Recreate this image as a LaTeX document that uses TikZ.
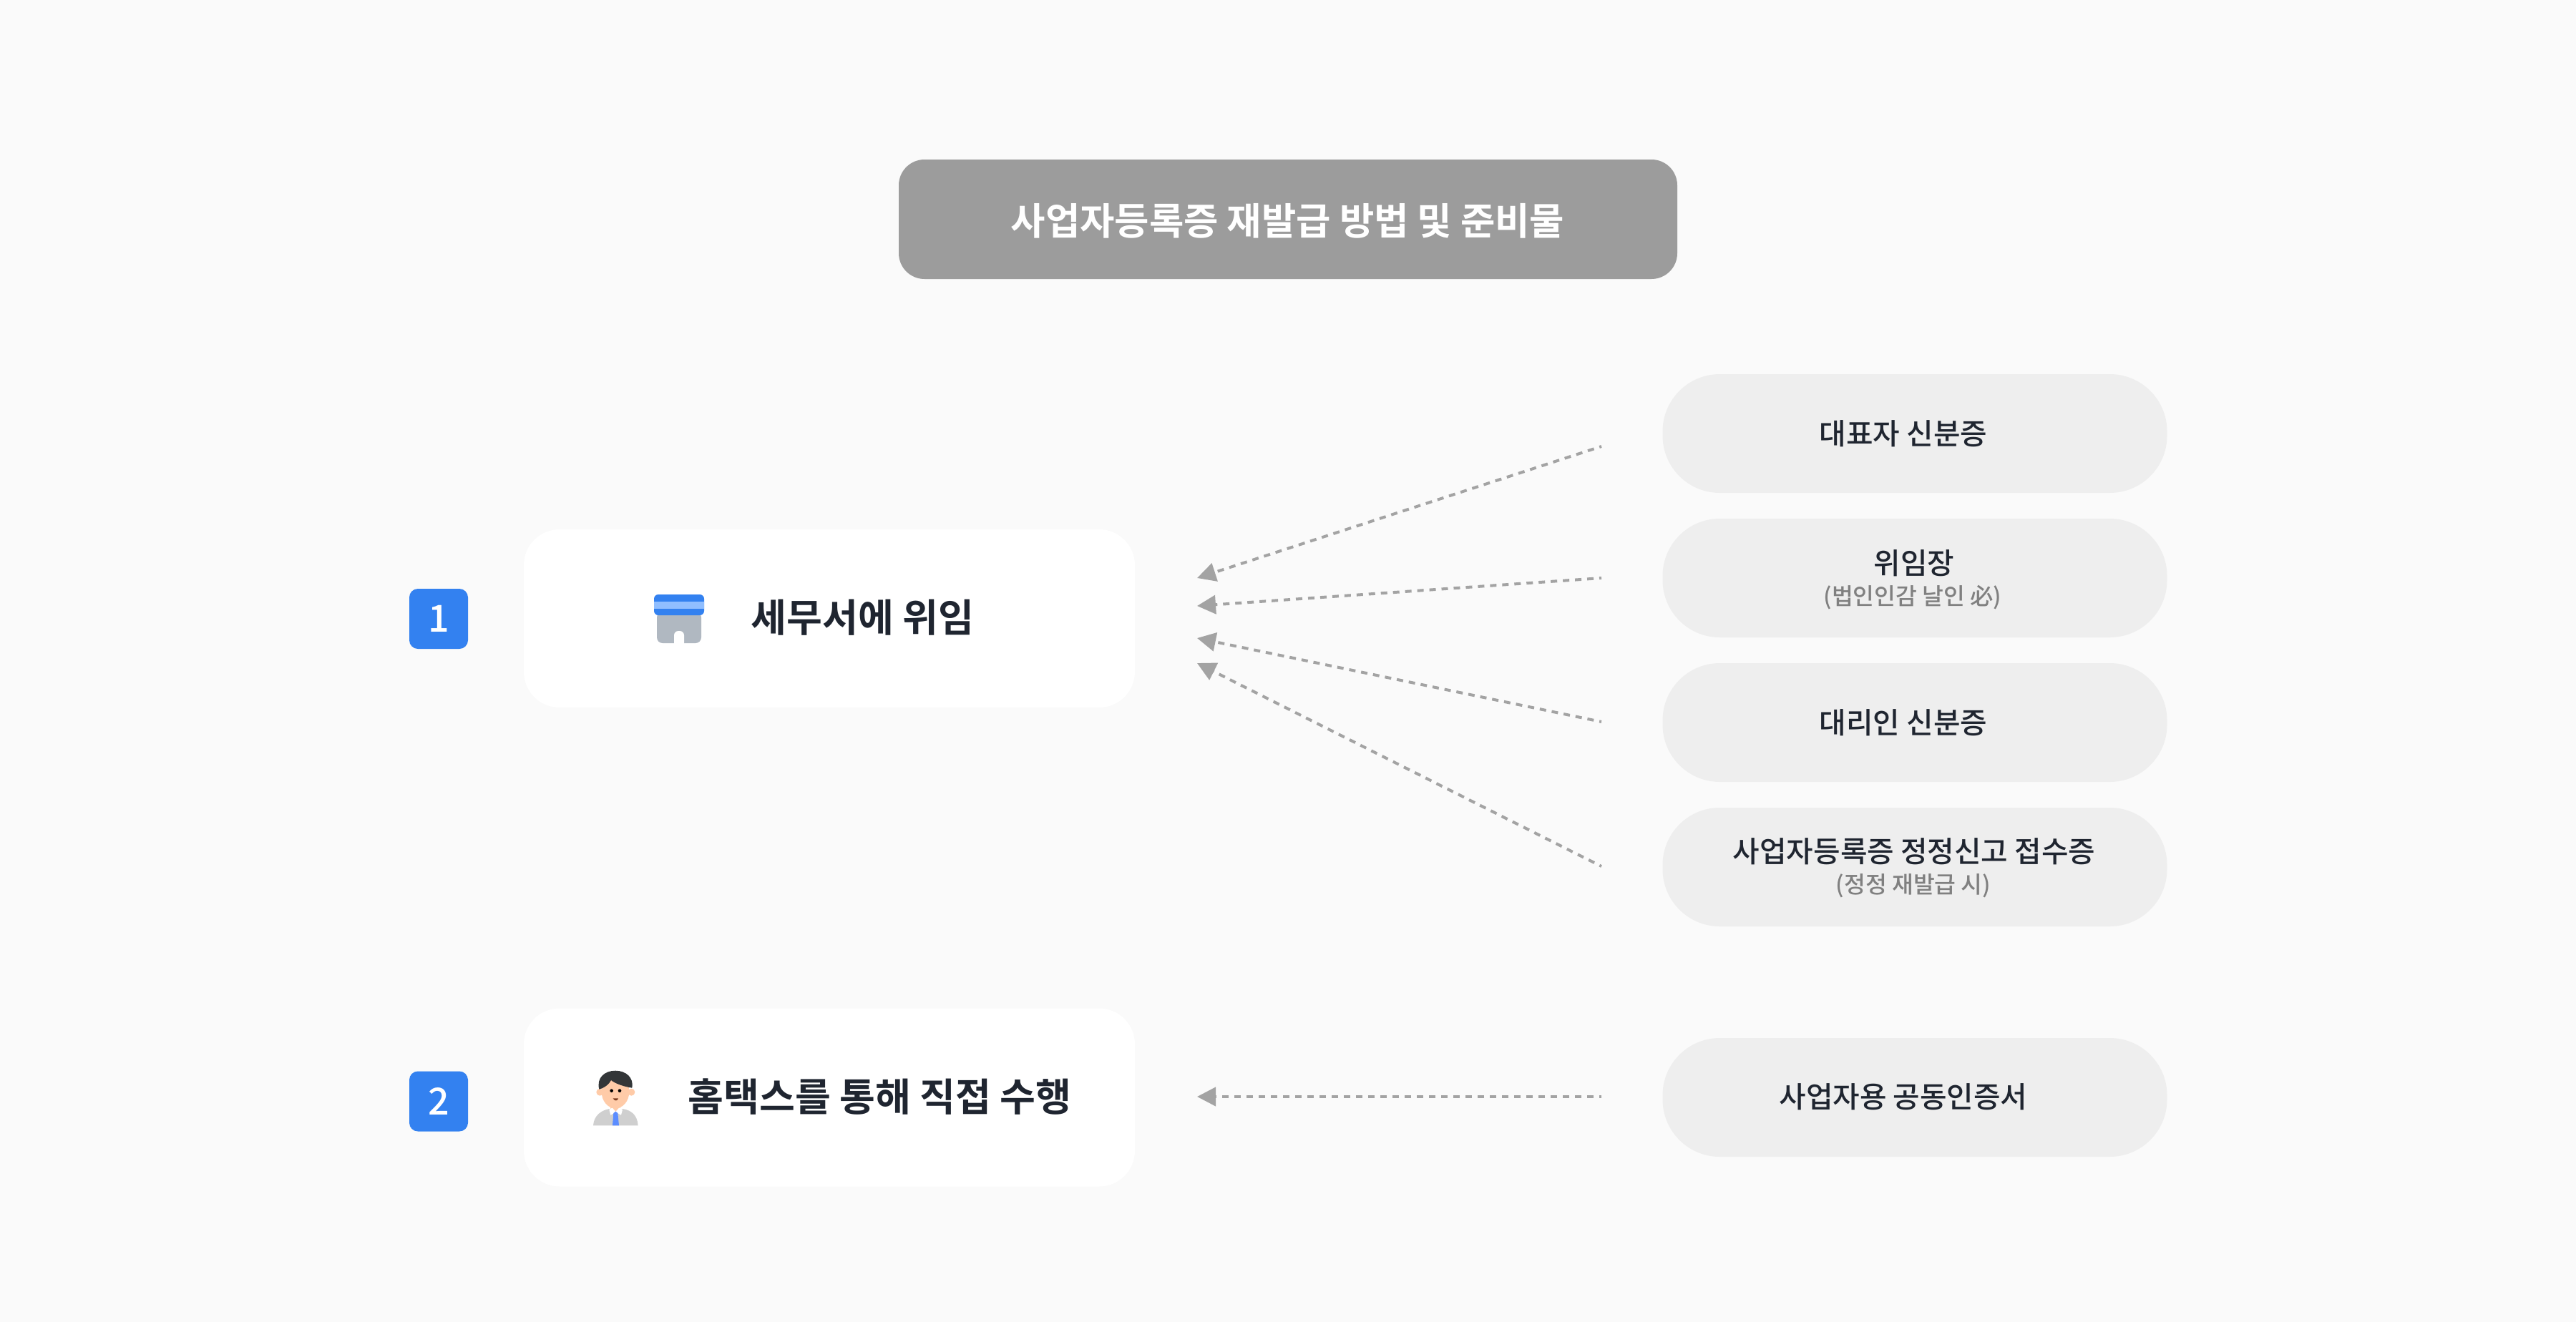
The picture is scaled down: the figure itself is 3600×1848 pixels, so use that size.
\documentclass[tikz,border=0pt]{standalone}
\usepackage{fontspec}
\usetikzlibrary{arrows.meta}
\setmainfont{Noto Sans CJK KR}[BoldFont={* Bold}]
\newfontfamily\medfont{Noto Sans CJK KR Medium}
\definecolor{bgc}{HTML}{FAFAFA}
\definecolor{titlec}{HTML}{9C9C9C}
\definecolor{pillc}{HTML}{EEEEEE}
\definecolor{inkc}{HTML}{1F2530}
\definecolor{subc}{HTML}{808080}
\definecolor{badgec}{HTML}{3381F0}
\definecolor{linec}{HTML}{A3A3A3}
\definecolor{skinc}{HTML}{FFCBA8}
\definecolor{hairc}{HTML}{333638}
\definecolor{suitc}{HTML}{CFCFCF}
\definecolor{tiec}{HTML}{5C8DFF}
\definecolor{shopc}{HTML}{B0B8C1}
\definecolor{stripc}{HTML}{90BEFF}
\definecolor{mouthc}{HTML}{7A3B1E}
\tikzset{
  titlebox/.style={fill=titlec,rounded corners=18pt,minimum width=544pt,minimum height=83.5pt,inner sep=0pt},
  titletext/.style={inner sep=0pt,text=white,font=\fontsize{26.3pt}{30pt}\selectfont\bfseries},
  mainbox/.style={fill=white,rounded corners=25pt,minimum width=427pt,minimum height=124.5pt,inner sep=0pt},
  badge/.style={fill=badgec,rounded corners=6pt,minimum width=41pt,minimum height=42pt,inner sep=0pt,text=white,font=\fontsize{26pt}{30pt}\medfont},
  pill/.style={fill=pillc,rounded corners=40pt,minimum width=352.5pt,minimum height=83pt,inner sep=0pt},
  maintext/.style={inner sep=0pt,text=inkc,font=\fontsize{27.1pt}{32pt}\selectfont\bfseries},
  pilltext/.style={inner sep=0pt,text=inkc,font=\fontsize{20.4pt}{24pt}\medfont},
  subtext/.style={inner sep=0pt,text=subc,font=\fontsize{16.2pt}{20pt}\medfont},
  conn/.style={draw=linec,line width=2pt,dash pattern=on 4.5pt off 4pt,dash phase=3pt,-{Triangle[length=13pt,width=13pt,fill=linec]}},
}
\begin{document}
\begin{tikzpicture}[x=0.5pt,y=-0.5pt]
\useasboundingbox (0,0) rectangle (3600,1848);
\fill[bgc] (0,0) rectangle (3600,1848);
\node[titlebox] (title) at (1800,306.5) {};
\node[titletext] (ttext) at (1799.5,308.5) {사업자등록증 재발급 방법 및 준비물};
\node[badge] (b1) at (613,865) {1};
\node[badge] (b2) at (613,1539.5) {2};
\node[mainbox] (m1) at (1159,864.5) {};
\node[mainbox] (m2) at (1159,1534) {};
\node[maintext] (t1) at (1205.5,863) {세무서에 위임};
\node[maintext] (t2) at (1229.5,1533.5) {홈택스를 통해 직접 수행};
% shop icon
\fill[shopc,rounded corners=4pt] (918,855) rectangle (980,899);
\fill[white,rounded corners=3pt] (942,905) -- (942,882) -- (956,882) -- (956,905) -- cycle;
\fill[badgec,rounded corners=3pt] (914,831) rectangle (984,860);
\fill[stripc] (914,841) rectangle (984,851);
% person icon
\begin{scope}[shift={(810,1480)},x=0.1667pt,y=-0.1667pt]
\fill[suitc] (57,280) .. controls (60,235) and (95,215) .. (125,210) -- (180,210) .. controls (215,215) and (242,235) .. (245,280) -- cycle;
\fill[skinc] (130,190) rectangle (172,225);
\fill[white] (124,213) -- (137,205) -- (151,222) -- (166,205) -- (180,213) -- (174,236) -- (151,224) -- (130,236) -- cycle;
\fill[tiec] (142,228) -- (151,221) -- (160,228) -- (165,280) -- (138,280) -- cycle;
\fill[skinc] (85,140) circle (15);
\fill[skinc] (217,140) circle (15);
\fill[skinc] (150,138) ellipse (58 and 70);
\fill[hairc] (82,128) .. controls (70,80) and (105,50) .. (150,50) .. controls (195,50) and (228,80) .. (220,122) .. controls (190,118) and (150,105) .. (132,90) .. controls (125,105) and (105,122) .. (82,128) -- cycle;
\fill[black] (134,134) circle (7);
\fill[black] (168,134) circle (7);
\fill[mouthc] (140,166) -- (162,166) .. controls (160,178) and (145,178) .. (140,166) -- cycle;
\end{scope}
% pills
\node[pill] (p1) at (2676,606) {};
\node[pill] (p2) at (2676,808) {};
\node[pill] (p3) at (2676,1010) {};
\node[pill] (p4) at (2676,1212) {};
\node[pill] (p5) at (2676,1534) {};
\node[pilltext] (pt1) at (2660,606) {대표자 신분증};
\node[pilltext] (pt2) at (2675,787) {위임장};
\node[subtext] (ps2) at (2673,835) {(법인인감 날인 必)};
\node[pilltext] (pt3) at (2660,1010) {대리인 신분증};
\node[pilltext] (pt4) at (2675,1190) {사업자등록증 정정신고 접수증};
\node[subtext] (ps4) at (2674,1238) {(정정 재발급 시)};
\node[pilltext] (pt5) at (2660,1533) {사업자용 공동인증서};
% connector ends
\coordinate (s1) at (2238,624);
\coordinate (s2) at (2238,808);
\coordinate (s3) at (2238,1009);
\coordinate (s4) at (2238,1211);
\coordinate (s5) at (2238,1533);
\coordinate (e1) at (1673,808);
\coordinate (e2) at (1673,847);
\coordinate (e3) at (1673,892);
\coordinate (e4) at (1673,927);
\coordinate (e5) at (1673,1533);
\draw[conn] (s1) -- (e1);
\draw[conn] (s2) -- (e2);
\draw[conn] (s3) -- (e3);
\draw[conn] (s4) -- (e4);
\draw[conn] (s5) -- (e5);
\end{tikzpicture}
\end{document}
